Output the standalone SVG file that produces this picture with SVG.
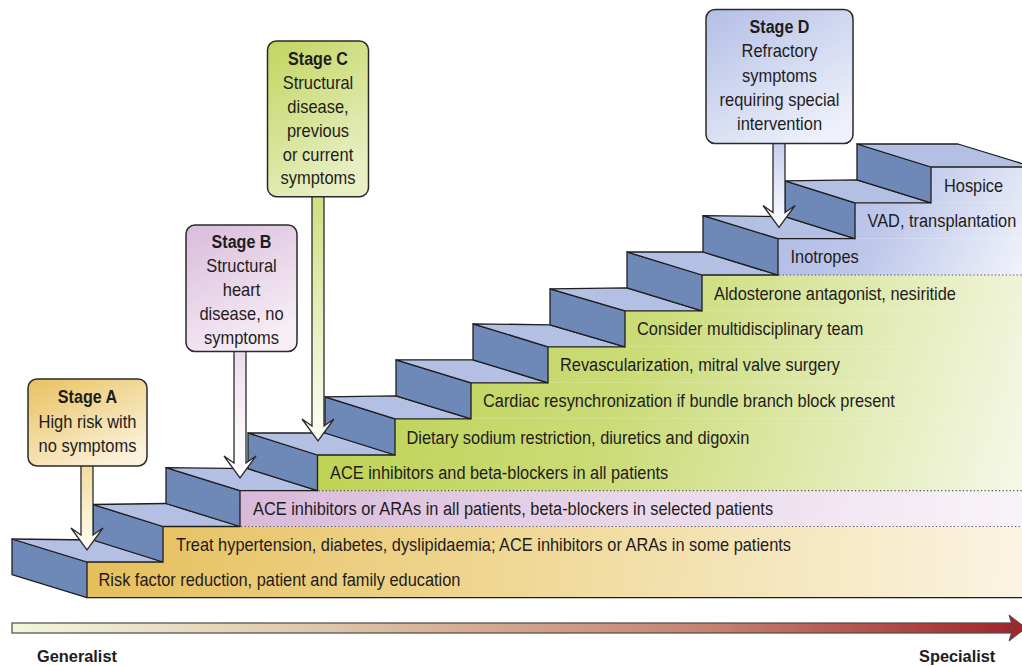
<svg xmlns="http://www.w3.org/2000/svg" width="1022" height="666" viewBox="0 0 1022 666">
<defs>
<style>
.t{font-family:"Liberation Sans",Arial,Helvetica,sans-serif;font-size:18.5px;fill:#1f1c1d}
.b{font-weight:bold}
.m{text-anchor:middle}
.riser{fill:#6e89b8;stroke:#1e1e1e;stroke-width:1.3;stroke-linejoin:round}
.tread{fill:#b4bfe4;stroke:#1e1e1e;stroke-width:1.3;stroke-linejoin:round}
.dots{stroke:#4a4a4a;stroke-width:1.2;stroke-dasharray:1.2 2.4;fill:none}
.box{stroke:#2a2a2a;stroke-width:1.5}
.arr{stroke:#2a2a2a;stroke-width:1.3;stroke-linejoin:miter}
</style>
<linearGradient id="gY" gradientUnits="userSpaceOnUse" x1="87" y1="526" x2="1022" y2="598">
<stop offset="0" stop-color="#e6bf5c"/><stop offset="0.45" stop-color="#efd794"/><stop offset="1" stop-color="#fbf4e3"/>
</linearGradient>
<linearGradient id="gP" gradientUnits="userSpaceOnUse" x1="240" y1="490" x2="1022" y2="527">
<stop offset="0" stop-color="#d8b9da"/><stop offset="1" stop-color="#f9f4f9"/>
</linearGradient>
<linearGradient id="gG" gradientUnits="userSpaceOnUse" x1="317" y1="275" x2="1022" y2="490">
<stop offset="0" stop-color="#bcd14f"/><stop offset="0.45" stop-color="#cbdc78"/><stop offset="1" stop-color="#f5f8e8"/>
</linearGradient>
<linearGradient id="gB" gradientUnits="userSpaceOnUse" x1="800" y1="167" x2="1022" y2="285">
<stop offset="0" stop-color="#b2bde5"/><stop offset="0.4" stop-color="#bec7ea"/><stop offset="1" stop-color="#f2f4fb"/>
</linearGradient>
<linearGradient id="bA" x1="0" y1="0" x2="0.7" y2="1">
<stop offset="0" stop-color="#e8c260"/><stop offset="1" stop-color="#fbf2da"/>
</linearGradient>
<linearGradient id="bB" x1="0" y1="0" x2="0.5" y2="1">
<stop offset="0" stop-color="#d9bbdb"/><stop offset="1" stop-color="#f6edf5"/>
</linearGradient>
<linearGradient id="bC" x1="0" y1="0" x2="0.5" y2="1">
<stop offset="0" stop-color="#c2d55e"/><stop offset="1" stop-color="#e7efc3"/>
</linearGradient>
<linearGradient id="bD" x1="0" y1="0" x2="0.7" y2="1">
<stop offset="0" stop-color="#b3bee6"/><stop offset="1" stop-color="#eef1fa"/>
</linearGradient>
<linearGradient id="aA" x1="0" y1="0" x2="0" y2="1">
<stop offset="0" stop-color="#f2dc9c"/><stop offset="1" stop-color="#fffdf6"/>
</linearGradient>
<linearGradient id="aB" x1="0" y1="0" x2="0" y2="1">
<stop offset="0" stop-color="#ecdbec"/><stop offset="0.6" stop-color="#faf5fa"/><stop offset="1" stop-color="#ffffff"/>
</linearGradient>
<linearGradient id="aC" x1="0" y1="0" x2="0" y2="1">
<stop offset="0" stop-color="#cfdf80"/><stop offset="1" stop-color="#fdfef8"/>
</linearGradient>
<linearGradient id="aD" x1="0" y1="0" x2="0" y2="1">
<stop offset="0" stop-color="#c6cef0"/><stop offset="1" stop-color="#ffffff"/>
</linearGradient>
<linearGradient id="gAxis" x1="0" y1="0" x2="1" y2="0">
<stop offset="0" stop-color="#f2f6dc"/><stop offset="0.35" stop-color="#dcbfa3"/><stop offset="0.7" stop-color="#c4826f"/><stop offset="1" stop-color="#a2262b"/>
</linearGradient>
</defs>
<rect width="1022" height="666" fill="#ffffff"/>

<g id="stairs">
<g id="step-1">
<rect x="87" y="562" width="943" height="35.6" fill="url(#gY)"/>
<polygon class="riser" points="12,539 87,562 87,597.6 12,574.6"/>
<polygon class="tread" points="12,539 87,562 163,562 93,540"/>
<text class="t" transform="translate(98.5 586.4) scale(0.885 1)">Risk factor reduction, patient and family education</text>
</g>
<g id="step-2">
<rect x="163" y="526.5" width="867" height="35.5" fill="url(#gY)"/>
<polygon class="riser" points="93,504.5 163,526.5 163,562 93,540"/>
<polygon class="tread" points="93,504.5 163,526.5 240,526.5 166,503.5"/>
<text class="t" transform="translate(176 550.9) scale(0.885 1)">Treat hypertension, diabetes, dyslipidaemia; ACE inhibitors or ARAs in some patients</text>
</g>
<g id="step-3">
<rect x="240" y="490.7" width="790" height="35.8" fill="url(#gP)"/>
<polygon class="riser" points="166,467.7 240,490.7 240,526.5 166,503.5"/>
<polygon class="tread" points="166,467.7 240,490.7 317.5,490.7 248,468.7"/>
<text class="t" transform="translate(253 515.2) scale(0.885 1)">ACE inhibitors or ARAs in all patients, beta-blockers in selected patients</text>
</g>
<g id="step-4">
<rect x="317.5" y="455" width="712.5" height="35.7" fill="url(#gG)"/>
<polygon class="riser" points="248,433 317.5,455 317.5,490.7 248,468.7"/>
<polygon class="tread" points="248,433 317.5,455 395,455 325,433"/>
<text class="t" transform="translate(330 479.4) scale(0.885 1)">ACE inhibitors and beta-blockers in all patients</text>
</g>
<g id="step-5">
<rect x="395" y="418.8" width="635" height="36.2" fill="url(#gG)"/>
<polygon class="riser" points="325,396.8 395,418.8 395,455 325,433"/>
<polygon class="tread" points="325,396.8 395,418.8 471,418.8 396,395.8"/>
<text class="t" transform="translate(406.5 443.5) scale(0.885 1)">Dietary sodium restriction, diuretics and digoxin</text>
</g>
<g id="step-6">
<rect x="471" y="382.8" width="559" height="36" fill="url(#gG)"/>
<polygon class="riser" points="396,359.8 471,382.8 471,418.8 396,395.8"/>
<polygon class="tread" points="396,359.8 471,382.8 548,382.8 473,359.8"/>
<text class="t" transform="translate(483 407.4) scale(0.885 1)">Cardiac resynchronization if bundle branch block present</text>
</g>
<g id="step-7">
<rect x="548" y="346.8" width="482" height="36" fill="url(#gG)"/>
<polygon class="riser" points="473,323.8 548,346.8 548,382.8 473,359.8"/>
<polygon class="tread" points="473,323.8 548,346.8 625,346.8 550,324.8"/>
<text class="t" transform="translate(560 371.4) scale(0.885 1)">Revascularization, mitral valve surgery</text>
</g>
<g id="step-8">
<rect x="625" y="310.8" width="405" height="36" fill="url(#gG)"/>
<polygon class="riser" points="550,288.8 625,310.8 625,346.8 550,324.8"/>
<polygon class="tread" points="550,288.8 625,310.8 702,310.8 627,287.8"/>
<text class="t" transform="translate(637 335.4) scale(0.885 1)">Consider multidisciplinary team</text>
</g>
<g id="step-9">
<rect x="702" y="275" width="328" height="35.8" fill="url(#gG)"/>
<polygon class="riser" points="627,252 702,275 702,310.8 627,287.8"/>
<polygon class="tread" points="627,252 702,275 778,275 703,252"/>
<text class="t" transform="translate(714 299.5) scale(0.885 1)">Aldosterone antagonist, nesiritide</text>
</g>
<g id="step-10">
<rect x="778" y="238.7" width="252" height="36.3" fill="url(#gB)"/>
<polygon class="riser" points="703,215.7 778,238.7 778,275 703,252"/>
<polygon class="tread" points="703,215.7 778,238.7 855,238.7 785,216.7"/>
<text class="t" transform="translate(790.5 263.4) scale(0.885 1)">Inotropes</text>
</g>
<g id="step-11">
<rect x="855" y="202.8" width="175" height="35.9" fill="url(#gB)"/>
<polygon class="riser" points="785,180.8 855,202.8 855,238.7 785,216.7"/>
<polygon class="tread" points="785,180.8 855,202.8 931,202.8 857,179.8"/>
<text class="t" transform="translate(867.5 227.3) scale(0.885 1)">VAD, transplantation</text>
</g>
<g id="step-12">
<rect x="931" y="167" width="99" height="35.8" fill="url(#gB)"/>
<polygon class="riser" points="857,144 931,167 931,202.8 857,179.8"/>
<polygon class="tread" points="857,144 931,167 1033,167 958,144"/>
<text class="t" transform="translate(944 191.5) scale(0.885 1)">Hospice</text>
</g>
<line x1="87" y1="597.6" x2="1030" y2="597.6" stroke="#1e1e1e" stroke-width="1.3"/>
</g>

<g id="dividers">
<line class="dots" x1="241" y1="526.5" x2="1022" y2="526.5"/>
<line class="dots" x1="318.5" y1="490.7" x2="1022" y2="490.7"/>
<line class="dots" x1="779" y1="275" x2="1022" y2="275"/>
</g>

<g id="connectors">
<polygon class="arr" fill="url(#aA)" points="81,464 93,464 93,535 103,528 87,550 71,528 81,535"/>
<polygon class="arr" fill="url(#aB)" points="234,350 246,350 246,463 256,456 240,478 224,456 234,463"/>
<polygon class="arr" fill="url(#aC)" points="312,195 324,195 324,426 334,419 318,441 302,419 312,426"/>
<polygon class="arr" fill="url(#aD)" points="773,142 785,142 785,212.5 795,205.5 779,227.5 763,205.5 773,212.5"/>
</g>

<g id="stage-a">
<rect class="box" x="28" y="379" width="119" height="87" rx="9" fill="url(#bA)"/>
<text class="t b m" transform="translate(87.5 403.3) scale(0.87 1)">Stage A</text>
<text class="t m" transform="translate(87.5 428) scale(0.89 1)">High risk with</text>
<text class="t m" transform="translate(87.5 451.7) scale(0.89 1)">no symptoms</text>
</g>
<g id="stage-b">
<rect class="box" x="186" y="225" width="111" height="126.5" rx="9" fill="url(#bB)"/>
<text class="t b m" transform="translate(241.5 248.3) scale(0.87 1)">Stage B</text>
<text class="t m" transform="translate(241.5 272.3) scale(0.89 1)">Structural</text>
<text class="t m" transform="translate(241.5 296.3) scale(0.89 1)">heart</text>
<text class="t m" transform="translate(241.5 320.3) scale(0.89 1)">disease, no</text>
<text class="t m" transform="translate(241.5 344.3) scale(0.89 1)">symptoms</text>
</g>
<g id="stage-c">
<rect class="box" x="267.5" y="41" width="101" height="155.7" rx="9" fill="url(#bC)"/>
<text class="t b m" transform="translate(318 65) scale(0.87 1)">Stage C</text>
<text class="t m" transform="translate(318 89) scale(0.89 1)">Structural</text>
<text class="t m" transform="translate(318 113) scale(0.89 1)">disease,</text>
<text class="t m" transform="translate(318 136.7) scale(0.89 1)">previous</text>
<text class="t m" transform="translate(318 160.5) scale(0.89 1)">or current</text>
<text class="t m" transform="translate(318 184.3) scale(0.89 1)">symptoms</text>
</g>
<g id="stage-d">
<rect class="box" x="706" y="9.5" width="147" height="134" rx="9" fill="url(#bD)"/>
<text class="t b m" transform="translate(779.5 33.3) scale(0.87 1)">Stage D</text>
<text class="t m" transform="translate(779.5 57.3) scale(0.89 1)">Refractory</text>
<text class="t m" transform="translate(779.5 81.5) scale(0.89 1)">symptoms</text>
<text class="t m" transform="translate(779.5 105.7) scale(0.89 1)">requiring special</text>
<text class="t m" transform="translate(779.5 129.5) scale(0.89 1)">intervention</text>
</g>

<g id="axis">
<rect x="12" y="623" width="1000" height="10" fill="url(#gAxis)" stroke="#4a4a4a" stroke-width="1.2"/>
<polygon points="1009,615 1026,628 1009,641 1013,628" fill="#a2262b" stroke="#4a4a4a" stroke-width="1"/>
<text class="t b" transform="translate(37 662) scale(0.94 1)" style="font-size:17.4px">Generalist</text>
<text class="t b" transform="translate(919 662) scale(0.94 1)" style="font-size:17.4px">Specialist</text>
</g>
</svg>
